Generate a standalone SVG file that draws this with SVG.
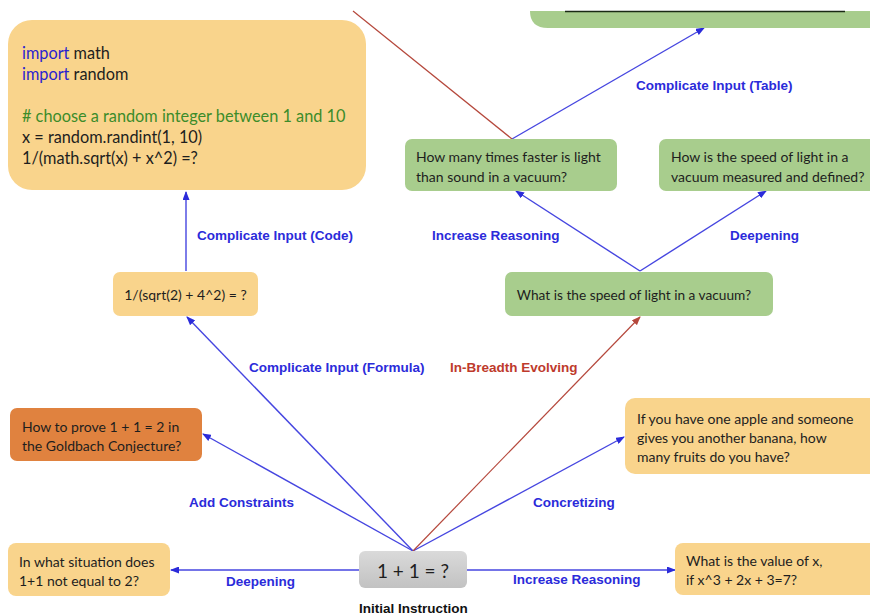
<svg xmlns="http://www.w3.org/2000/svg" width="870" height="616" viewBox="0 0 870 616">
  <defs>
    <style>
      .node-yellow { fill: #F9D48C; }
      .node-green { fill: #A8CD8D; }
      .node-orange { fill: #E0823F; }
      .txt { font-family: Lato, "Liberation Sans", sans-serif; font-size: 14px; fill: #1E1E1E; }
      .code { font-family: Lato, "Liberation Sans", sans-serif; font-size: 16.3px; fill: #1E1E1E; }
      .kw { fill: #2A1FD0; }
      .cm { fill: #3C8C2A; }
      .lbl { font-family: "Liberation Sans", Arial, sans-serif; font-size: 13.5px; font-weight: bold; fill: #2B2BDA; }
      .lbl-red { fill: #BE3A2C; }
      .edge { fill: none; stroke: #4646E0; stroke-width: 1.4; }
      .edge-red { fill: none; stroke: #B5483C; stroke-width: 1.2; }
    </style>
    <linearGradient id="grayFill" x1="0" y1="0" x2="0" y2="1">
      <stop offset="0" stop-color="#DADADA"/>
      <stop offset="1" stop-color="#C2C2C2"/>
    </linearGradient>
    <marker id="arrowBlue" markerUnits="userSpaceOnUse" markerWidth="9" markerHeight="7" refX="8" refY="3.5" orient="auto">
      <path d="M0,0 L9,3.5 L0,7 Z" fill="#2B2BDA"/>
    </marker>
    <marker id="arrowRed" markerUnits="userSpaceOnUse" markerWidth="9" markerHeight="7" refX="8" refY="3.5" orient="auto">
      <path d="M0,0 L9,3.5 L0,7 Z" fill="#B5483C"/>
    </marker>
  </defs>

  <rect width="870" height="616" fill="#FFFFFF"/>

  <!-- connectors -->
  <g id="connectors">
    <line class="edge" x1="186" y1="271" x2="186" y2="192" marker-end="url(#arrowBlue)"/>
    <line class="edge" x1="413" y1="551" x2="187" y2="317" marker-end="url(#arrowBlue)"/>
    <line class="edge" x1="413" y1="551" x2="203" y2="434" marker-end="url(#arrowBlue)"/>
    <line class="edge" x1="359" y1="570" x2="171" y2="570" marker-end="url(#arrowBlue)"/>
    <line class="edge" x1="467" y1="570" x2="675" y2="570" marker-end="url(#arrowBlue)"/>
    <line class="edge" x1="413" y1="551" x2="624" y2="437" marker-end="url(#arrowBlue)"/>
    <line class="edge-red" x1="413" y1="551" x2="640" y2="317" marker-end="url(#arrowRed)"/>
    <line class="edge" x1="640" y1="271" x2="516" y2="191" marker-end="url(#arrowBlue)"/>
    <line class="edge" x1="640" y1="271" x2="766" y2="191" marker-end="url(#arrowBlue)"/>
    <line class="edge" x1="512" y1="139" x2="704" y2="28" marker-end="url(#arrowBlue)"/>
    <line class="edge-red" x1="512" y1="139" x2="353" y2="11"/>

    <text class="lbl" x="197" y="240">Complicate Input (Code)</text>
    <text class="lbl" x="249" y="372">Complicate Input (Formula)</text>
    <text class="lbl lbl-red" x="450" y="372">In-Breadth Evolving</text>
    <text class="lbl" x="432" y="240">Increase Reasoning</text>
    <text class="lbl" x="730" y="240">Deepening</text>
    <text class="lbl" x="636" y="90">Complicate Input (Table)</text>
    <text class="lbl" x="189" y="507">Add Constraints</text>
    <text class="lbl" x="533" y="507">Concretizing</text>
    <text class="lbl" x="226" y="586">Deepening</text>
    <text class="lbl" x="513" y="584">Increase Reasoning</text>
  </g>

  <!-- table node, cut at the top edge -->
  <g id="node-table">
    <path class="node-green" d="M530,11 L870,11 L870,28 L548,28 Q530,28 530,11 Z"/>
    <line x1="565" y1="11.5" x2="845" y2="11.5" stroke="#1A2A14" stroke-width="1.6"/>
  </g>

  <g id="node-code">
    <rect class="node-yellow" x="8" y="20" width="358" height="170" rx="24"/>
    <text class="code" x="22" y="59"><tspan class="kw">import</tspan> math</text>
    <text class="code" x="22" y="80"><tspan class="kw">import</tspan> random</text>
    <text class="code cm" x="22" y="122"># choose a random integer between 1 and 10</text>
    <text class="code" x="22" y="143">x = random.randint(1, 10)</text>
    <text class="code" x="22" y="164">1/(math.sqrt(x) + x^2) =?</text>
  </g>

  <g id="node-formula">
    <rect class="node-yellow" x="113" y="272" width="145" height="44" rx="7"/>
    <text class="txt" x="185.5" y="300" text-anchor="middle">1/(sqrt(2) + 4^2) = ?</text>
  </g>

  <g id="node-faster">
    <rect class="node-green" x="405" y="139" width="212" height="52" rx="7"/>
    <text class="txt" x="416" y="162">How many times faster is light</text>
    <text class="txt" x="416" y="182">than sound in a vacuum?</text>
  </g>

  <g id="node-measured">
    <rect class="node-green" x="659" y="139" width="220" height="52" rx="7"/>
    <text class="txt" x="671" y="162">How is the speed of light in a</text>
    <text class="txt" x="671" y="182">vacuum measured and defined?</text>
  </g>

  <g id="node-speed">
    <rect class="node-green" x="505" y="272" width="268" height="44" rx="7"/>
    <text class="txt" x="634" y="300" text-anchor="middle" style="font-size:13.7px">What is the speed of light in a vacuum?</text>
  </g>

  <g id="node-goldbach">
    <rect class="node-orange" x="10" y="408" width="192" height="53" rx="7"/>
    <text class="txt" x="22" y="432">How to prove 1 + 1 = 2 in</text>
    <text class="txt" x="22" y="451">the Goldbach Conjecture?</text>
  </g>

  <g id="node-apple">
    <rect class="node-yellow" x="625" y="398" width="255" height="76" rx="10"/>
    <text class="txt" x="637" y="424">If you have one apple and someone</text>
    <text class="txt" x="637" y="443">gives you another banana, how</text>
    <text class="txt" x="637" y="462">many fruits do you have?</text>
  </g>

  <g id="node-situation">
    <rect class="node-yellow" x="8" y="543" width="162" height="53" rx="8"/>
    <text class="txt" x="19" y="567">In what situation does</text>
    <text class="txt" x="19" y="586">1+1 not equal to 2?</text>
  </g>

  <g id="node-value">
    <rect class="node-yellow" x="675" y="543" width="205" height="52" rx="8"/>
    <text class="txt" x="686" y="566">What is the value of x,</text>
    <text class="txt" x="686" y="585">if x^3 + 2x + 3=7?</text>
  </g>

  <g id="node-initial">
    <rect x="359" y="551" width="108" height="37" rx="6" fill="url(#grayFill)"/>
    <text class="txt" x="413" y="578" text-anchor="middle" style="font-size:19px">1 + 1 = ?</text>
    <text class="lbl" x="413.5" y="613" text-anchor="middle" style="fill:#111111">Initial Instruction</text>
  </g>
</svg>
